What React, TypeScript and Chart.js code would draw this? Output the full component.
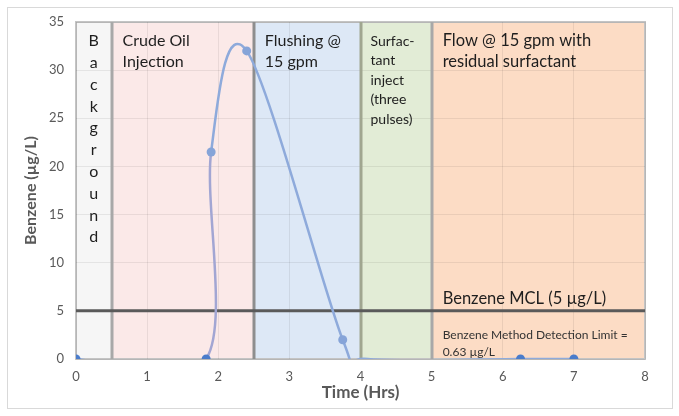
import React, { useEffect, useRef } from "react";
import { Chart, registerables } from "chart.js";

Chart.register(...registerables);

// ---- Data ----
const timeHrs = [0, 1.83, 1.9, 2.4, 3.75, 4.1, 6.25, 7];
const benzene = [0, 0, 21.5, 32, 2, 0, 0, 0];
const markerVisible = [true, true, true, true, true, false, true, true];
const mclValue = 5;
const xMin = 0;
const xMax = 8;
const yMin = 0;
const yMax = 35;
const phaseStarts = [0, 0.5, 2.5, 4, 5];
const phaseEnds = [0.5, 2.5, 4, 5, 8];
const phaseLabels = [
  ["B", "a", "c", "k", "g", "r", "o", "u", "n", "d"],
  ["Crude Oil", "Injection"],
  ["Flushing @", "15 gpm"],
  ["Surfac-", "tant", "inject", "(three", "pulses)"],
  ["Flow @ 15 gpm with", "residual surfactant"],
];
const mclLabel = "Benzene MCL (5 µg/L)";
const mdlLabel = ["Benzene Method Detection Limit =", "0.63 µg/L"];
const xTitle = "Time (Hrs)";
const yTitle = "Benzene (µg/L)";

// ---- Styles ----
const FONT = "Lato, 'Open Sans', sans-serif";
const phaseFills = ["#f6f6f6", "#fbe9e8", "#dde8f6", "#e2ecd6", "#fcdcc5"];
const phaseText = [
  { size: 16, lh: 21.8, dx: 0, center: true },
  { size: 16, lh: 21, dx: 11, center: false },
  { size: 16, lh: 21, dx: 11, center: false },
  { size: 14, lh: 19.5, dx: 10, center: false },
  { size: 16.5, lh: 21, dx: 11, center: false },
];
const boundaryColors = ["#a8a8a8", "#8e8e8e", "#a0a690", "#a8a8a8"];

// Excel-style (uniform Catmull-Rom) smoothing for the benzene line
const smoothingPlugin = {
  id: "excelSmoothing",
  beforeDatasetsDraw(chart: any) {
    const meta = chart.getDatasetMeta(1);
    if (!meta || !meta.dataset) return;
    meta.dataset.updateControlPoints(chart.chartArea, "x");
    const pts = meta.data;
    const n = pts.length;
    for (let i = 0; i < n; i++) {
      const p = pts[i];
      const prev = pts[Math.max(i - 1, 0)];
      const next = pts[Math.min(i + 1, n - 1)];
      const dx = (next.x - prev.x) / 6;
      const dy = (next.y - prev.y) / 6;
      p.cp1x = p.x - dx;
      p.cp1y = p.y - dy;
      p.cp2x = p.x + dx;
      p.cp2y = p.y + dy;
    }
  },
};

const shadingPlugin = {
  id: "phaseShading",
  beforeDraw(chart: any) {
    const { ctx, chartArea, scales } = chart;
    const xs = scales.x;
    const top = chartArea.top;
    const bottom = chartArea.bottom;
    ctx.save();
    phaseStarts.forEach((s, i) => {
      const x0 = xs.getPixelForValue(s);
      const x1 = xs.getPixelForValue(phaseEnds[i]);
      ctx.fillStyle = phaseFills[i];
      ctx.fillRect(x0, top, x1 - x0, bottom - top);
    });
    ctx.strokeStyle = "#c4c4c4";
    ctx.lineWidth = 2;
    ctx.strokeRect(chartArea.left, top, chartArea.right - chartArea.left, bottom - top);
    ctx.restore();
  },
  beforeDatasetsDraw(chart: any) {
    const { ctx, chartArea, scales } = chart;
    const xs = scales.x;
    ctx.save();
    phaseStarts.slice(1).forEach((s, i) => {
      const x = Math.round(xs.getPixelForValue(s));
      ctx.strokeStyle = boundaryColors[i];
      ctx.lineWidth = 3;
      ctx.beginPath();
      ctx.moveTo(x, chartArea.top);
      ctx.lineTo(x, chartArea.bottom);
      ctx.stroke();
    });
    ctx.restore();
  },
  afterDatasetsDraw(chart: any) {
    const { ctx, chartArea, scales } = chart;
    const xs = scales.x;
    const ys = scales.y;
    ctx.save();
    ctx.fillStyle = "#1e1e1e";
    ctx.textBaseline = "middle";
    phaseLabels.forEach((lines, i) => {
      const st = phaseText[i];
      const x0 = xs.getPixelForValue(phaseStarts[i]);
      const x1 = xs.getPixelForValue(phaseEnds[i]);
      ctx.font = `${st.size}px ${FONT}`;
      ctx.textAlign = st.center ? "center" : "left";
      const x = st.center ? (x0 + x1) / 2 : x0 + st.dx;
      lines.forEach((t, j) => {
        ctx.fillText(t, x, chartArea.top + 19 + j * st.lh);
      });
    });
    const lx = xs.getPixelForValue(phaseStarts[4]) + 11;
    const yMcl = ys.getPixelForValue(mclValue);
    ctx.textAlign = "left";
    ctx.font = `16.5px ${FONT}`;
    ctx.fillText(mclLabel, lx, yMcl - 12);
    ctx.font = `12px ${FONT}`;
    ctx.fillStyle = "#333";
    mdlLabel.forEach((t, j) => ctx.fillText(t, lx, yMcl + 24 + j * 17));
    ctx.restore();
  },
};

export default function App() {
  const canvasRef = useRef<HTMLCanvasElement | null>(null);

  useEffect(() => {
    if (!canvasRef.current) return;
    const points = timeHrs.map((x, i) => ({ x, y: benzene[i] }));
    const darkMarker = "#4a7ccb";
    const lightMarker = "#86a4d8";
    const chart = new Chart(canvasRef.current, {
      type: "line",
      data: {
        datasets: [
          {
            label: "MCL",
            data: [
              { x: xMin, y: mclValue },
              { x: xMax, y: mclValue },
            ],
            borderColor: "#5a5a5a",
            borderWidth: 3,
            pointRadius: 0,
            tension: 0,
            order: 2,
          },
          {
            label: "Benzene",
            data: points,
            borderColor: "#8eaadb",
            borderWidth: 2.5,
            tension: 0.4,
            pointRadius: markerVisible.map((v) => (v ? 4.5 : 0)),
            pointBackgroundColor: benzene.map((v) => (v === 0 ? darkMarker : lightMarker)),
            pointBorderColor: benzene.map((v) => (v === 0 ? darkMarker : lightMarker)),
            pointBorderWidth: 0,
            segment: {
              borderColor: (ctx: any) => (ctx.p0DataIndex === 1 ? "#a2a6d3" : "#8eaadb"),
            },
            order: 1,
          },
        ],
      },
      options: {
        responsive: false,
        animation: false,
        plugins: { legend: { display: false }, tooltip: { enabled: false } },
        layout: { padding: { left: 14, top: 22, right: 34, bottom: 0 } },
        scales: {
          x: {
            type: "linear",
            min: xMin,
            max: xMax,
            ticks: { stepSize: 1, color: "#595959", font: { family: FONT, size: 13 }, padding: 10 },
            grid: { color: "rgba(0,0,0,0.07)", drawTicks: false },
            border: { display: false },
            title: {
              display: true,
              text: xTitle,
              color: "#595959",
              font: { family: FONT, size: 17, weight: "bold" },
              padding: { top: 0, bottom: 13 },
            },
            afterFit: (s: any) => {
              s.height = 57;
            },
          },
          y: {
            min: yMin,
            max: yMax,
            ticks: { stepSize: 5, color: "#595959", font: { family: FONT, size: 13 }, padding: 12 },
            grid: { color: "rgba(0,0,0,0.07)", drawTicks: false },
            border: { display: false },
            title: {
              display: true,
              text: yTitle,
              color: "#595959",
              font: { family: FONT, size: 16, weight: "bold" },
              padding: { top: 7, bottom: 0 },
            },
            afterFit: (s: any) => {
              s.width = 62;
            },
          },
        },
      },
      plugins: [shadingPlugin, smoothingPlugin],
    } as any);
    return () => chart.destroy();
  }, []);

  return (
    <div style={{ position: "fixed", left: 0, top: 0, width: 679, height: 416, background: "#fff" }}>
      <div
        style={{
          position: "absolute",
          left: 7,
          top: 7,
          width: 664,
          height: 400,
          border: "1px solid #d9d9d9",
        }}
      />
      <canvas
        ref={canvasRef}
        width={679}
        height={416}
        style={{ position: "absolute", left: 0, top: 0, width: 679, height: 416 }}
      />
    </div>
  );
}
